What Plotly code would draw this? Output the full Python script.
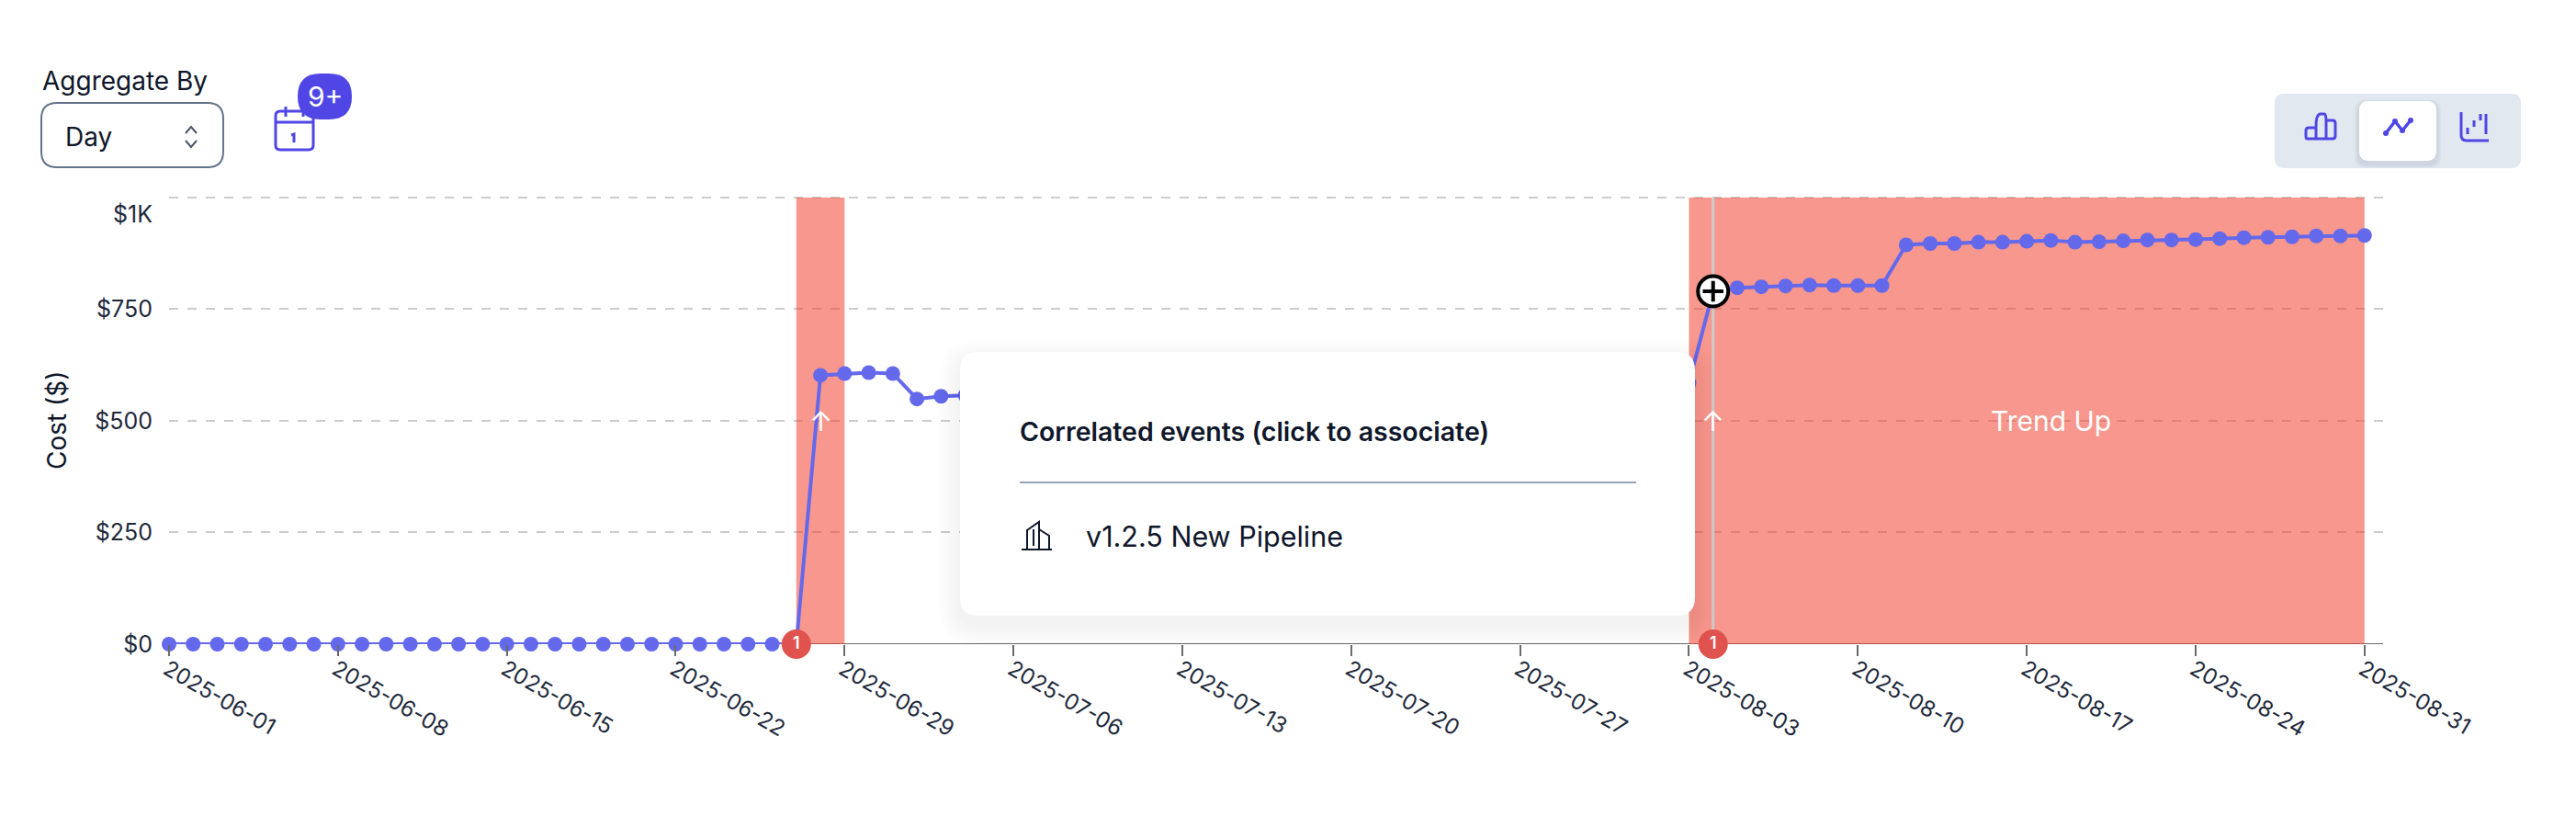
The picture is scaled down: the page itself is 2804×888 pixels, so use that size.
import re
import pandas as pd
import plotly.graph_objects as go

W, H = 2804, 888
dates = [d.strftime("%Y-%m-%d") for d in pd.date_range("2025-06-01", "2025-08-31")]
cost = [0] * 27 + [
    602, 606, 608, 606, 549, 555, 557,
    556, 558, 557, 559, 561, 560, 562, 563, 562, 564, 566, 565, 567, 568, 567,
    569, 571, 570, 572, 573, 572, 574, 576, 575, 577, 578, 577, 579, 581,
    585, 790,
    798, 800, 802, 804, 803, 803, 803,
    894, 897, 897, 900, 900, 902, 904, 900,
    901, 903, 905, 905, 906,
    908, 910, 911, 912, 914, 914, 915,
]
x_ticks = ["2025-06-01", "2025-06-08", "2025-06-15", "2025-06-22", "2025-06-29", "2025-07-06", "2025-07-13",
           "2025-07-20", "2025-07-27", "2025-08-03", "2025-08-10", "2025-08-17", "2025-08-24", "2025-08-31"]
x_range = ["2025-06-01", "2025-08-31 18:28"]
y_range = [0, 1002]
y_ticks = [0, 250, 500, 750, 1000]
y_labels = ["$0", "$250", "$500", "$750", ""]
bands = [("2025-06-27", "2025-06-29"), ("2025-08-03", "2025-08-31")]
event_dates = ["2025-06-27", "2025-08-04"]
event_counts = ["1", "1"]
trend_arrows = ["2025-06-28", "2025-08-04"]
hover_date = "2025-08-04"
hover_value = 790
series_color = "#6469ec"
ink = "#0f172a"
accent = "#4f46e5"
font = "Inter"


def px(d):
    """Turn a path in page pixels into paper coordinates."""
    out, is_x = [], True
    for tok in re.findall(r"[MLQCZ]|-?[\d.]+", d):
        if tok in "MLQCZ":
            out.append(tok)
            is_x = True
        else:
            v = float(tok)
            out.append(f"{v / W:.6f}" if is_x else f"{1 - v / H:.6f}")
            is_x = not is_x
    return " ".join(out)


def rrect(x0, y0, x1, y1, r):
    return (f"M {x0 + r} {y0} L {x1 - r} {y0} Q {x1} {y0} {x1} {y0 + r} L {x1} {y1 - r} Q {x1} {y1} {x1 - r} {y1} "
            f"L {x0 + r} {y1} Q {x0} {y1} {x0} {y1 - r} L {x0} {y0 + r} Q {x0} {y0} {x0 + r} {y0} Z")


shapes = []


def ui(d, fill=None, stroke=None, sw=2):
    s = dict(type="path", xref="paper", yref="paper", path=px(d), layer="above", line=dict(width=0))
    if fill:
        s["fillcolor"] = fill
    if stroke:
        s["line"] = dict(color=stroke, width=sw)
    shapes.append(s)


# top gridline, axis line + bands sit between the grid and the series
shapes.append(dict(type="line", xref="x", x0=x_range[0], x1=x_range[1], yref="y", y0=y_ticks[-1], y1=y_ticks[-1],
                   layer="between", line=dict(color="#cccccc", width=2, dash="10px,10px")))
shapes.append(dict(type="line", xref="x", x0=x_range[0], x1=x_range[1], yref="y", y0=0, y1=0, layer="between",
                   line=dict(color="#6b6b6b", width=2)))
for a, b in bands:
    shapes.append(dict(type="rect", xref="x", x0=a, x1=b, yref="y", y0=y_ticks[0], y1=y_ticks[-1], layer="between",
                       fillcolor="rgba(240,65,48,0.55)", line=dict(width=0)))
shapes.append(dict(type="line", xref="x", x0=hover_date, x1=hover_date, yref="y", y0=y_ticks[0], y1=y_ticks[-1],
                   layer="between", line=dict(color="#cccccc", width=3)))

# popup card
for i in range(12):
    g = 24 - i * 2
    ui(rrect(1045 - g, 383 + 10 - g, 1845 + g, 670 + 10 + g, 20 + g), fill="rgba(15,23,42,0.004)")
ui(rrect(1045, 383, 1845, 670, 20), fill="#ffffff")
ui("M 1110 525 L 1781 525", stroke="#94a3b8", sw=2)
ui("M 1118 597 L 1118 577 L 1131 568 L 1131 597 M 1131 576 L 1142 583 L 1142 597 M 1112 598 L 1145 598",
   stroke=ink, sw=2)
ui("M 1125 576 L 1125 594", stroke=ink, sw=2)

# aggregate select
ui(rrect(45, 112, 243, 182, 17), fill="#ffffff", stroke="#64748b", sw=2)
ui("M 202 145 L 208 138 L 214 145", stroke="#475569", sw=2)
ui("M 202 153 L 208 160 L 214 153", stroke="#475569", sw=2)

# calendar + badge
ui(rrect(300, 121, 341, 163, 5), stroke=accent, sw=3)
ui("M 300 133 L 341 133 M 311 116 L 311 127 M 330 116 L 330 127", stroke=accent, sw=3)
ui("M 317 147 L 320 146 L 320 155", stroke=accent, sw=3)
ui(rrect(324, 80, 383, 130, 25), fill=accent)

# chart type toggle
ui(rrect(2476, 102, 2744, 183, 10), fill="#e2e8f0")
for i in range(4):
    g = 5 - i
    ui(rrect(2568 - g, 110 - g + 3, 2652 + g, 175 + g + 3, 12), fill="rgba(15,23,42,0.018)")
ui(rrect(2568, 110, 2652, 175, 10), fill="#ffffff")
ui("M 2511 151 L 2521 151 L 2521 138 Q 2521 124 2526 124 L 2530 124 Q 2532 124 2532 131 L 2532 151 L 2511 151 "
   "Q 2510 151 2510 148 L 2510 142 Q 2510 139 2513 139 L 2521 139 M 2532 131 L 2539 131 Q 2542 131 2542 134 "
   "L 2542 148 Q 2542 151 2539 151 L 2532 151", stroke=accent, sw=3)
ui("M 2597 145 L 2607 132 L 2615 142 L 2624 131", stroke=accent, sw=3.5)
for cx, cy in [(2597, 145), (2607, 132), (2615, 142), (2624, 131)]:
    ui(rrect(cx - 3, cy - 3, cx + 3, cy + 3, 3), fill=accent)
ui("M 2679 122 L 2679 147 Q 2679 153 2685 153 L 2709 153", stroke=accent, sw=3)
ui("M 2686 139 L 2686 146 M 2693 131 L 2693 138 M 2700 124 L 2700 131 M 2706 124 L 2706 146", stroke=accent, sw=3)


def label(text, x, y, size, color=ink, anchor="left", weight=400, angle=0):
    return dict(text=text, xref="paper", yref="paper", x=x / W, y=1 - y / H, showarrow=False, xanchor=anchor,
                yanchor="middle", textangle=angle, font=dict(family=font, size=size, color=color, weight=weight))


annotations = [
    label("Aggregate By", 44, 88, 28),
    label("Day", 69, 149, 28),
    label("9+", 354, 105, 30, color="#ffffff", anchor="center"),
    label("Correlated events (click to associate)", 1108, 469, 28.5, weight=600),
    label("v1.2.5 New Pipeline", 1180, 583, 30.5),
    label("Cost ($)", 62, 458, 28, anchor="center", angle=-90),
    label("$1K", 168, 233, 25, color="#1e293b", anchor="right"),
]
for d in trend_arrows:
    annotations.append(dict(text="↑", xref="x", x=d, yref="y", y=500, showarrow=False,
                            font=dict(family=font, size=30, color="#ffffff")))
annotations.append(dict(text="Trend Up", xref="x", x="2025-08-18", yref="y", y=500, showarrow=False,
                        font=dict(family=font, size=30, color="#ffffff")))

fig = go.Figure()
fig.add_trace(go.Scatter(x=dates, y=cost, mode="lines+markers", cliponaxis=False, hoverinfo="skip",
                         line=dict(color=series_color, width=4),
                         marker=dict(color=series_color, size=16, line=dict(width=0))))
fig.add_trace(go.Scatter(x=[hover_date], y=[hover_value], mode="markers", cliponaxis=False, hoverinfo="skip",
                         marker=dict(color="#ffffff", size=33, line=dict(color="#000000", width=4))))
fig.add_trace(go.Scatter(x=[hover_date], y=[hover_value], mode="markers", cliponaxis=False, hoverinfo="skip",
                         marker=dict(symbol="cross-thin", size=16, line=dict(color="#000000", width=4))))
fig.add_trace(go.Scatter(x=event_dates, y=[0, 0], mode="markers+text", text=event_counts, cliponaxis=False,
                         hoverinfo="skip", textposition="middle center",
                         textfont=dict(family=font, size=18, color="#ffffff", weight=600),
                         marker=dict(color="#e0524d", size=32, line=dict(width=0))))

fig.update_layout(
    width=W, height=H, autosize=False, showlegend=False, paper_bgcolor="#ffffff", plot_bgcolor="#ffffff",
    margin=dict(l=0, r=0, t=0, b=0), shapes=shapes, annotations=annotations,
    font=dict(family=font, color=ink),
    xaxis=dict(domain=[184 / W, 2594 / W], type="date", range=x_range, automargin=False,
               tickmode="array", tickvals=x_ticks, ticktext=x_ticks, tickangle=30, ticks="outside", ticklen=12,
               tickwidth=2, tickcolor="#6b6b6b", showgrid=False, zeroline=False, showline=False,
               ticklabelstandoff=-9, ticklabelshift=-2,
               tickfont=dict(family=font, size=24, color="#1e293b")),
    yaxis=dict(domain=[1 - 701 / H, 1 - 214 / H], range=y_range, tickmode="array", tickvals=y_ticks, automargin=False,
               ticktext=y_labels, showgrid=True, gridcolor="#cccccc", gridwidth=2, griddash="10px,10px",
               zeroline=False, showline=False, ticks="", ticklabelstandoff=17,
               tickfont=dict(family=font, size=25, color="#1e293b")),
)
fig.write_html("out.html", config={"displayModeBar": False, "responsive": False},
               post_script="document.body.style.margin='0';document.body.style.overflow='hidden';")
